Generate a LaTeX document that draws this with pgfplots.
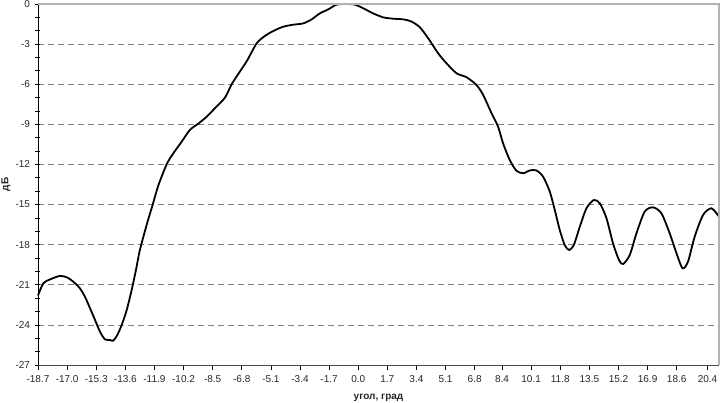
\documentclass[border=0pt]{standalone}
\usepackage{pgfplots}
\pgfplotsset{compat=1.18}
\usepackage{fontspec}
\setmainfont{Liberation Sans}
\pgfplotstableread{
x y
-18.70 -21.80
-18.39 -20.89
-18.00 -20.60
-17.42 -20.34
-17.02 -20.44
-16.64 -20.77
-16.25 -21.27
-15.96 -21.89
-15.66 -22.76
-15.37 -23.63
-15.08 -24.51
-14.79 -25.08
-14.50 -25.13
-14.30 -25.18
-14.07 -24.76
-13.81 -24.00
-13.52 -22.89
-13.23 -21.39
-12.98 -19.90
-12.75 -18.40
-12.35 -16.50
-12.00 -15.00
-11.68 -13.60
-11.19 -12.00
-10.80 -11.17
-10.31 -10.30
-9.83 -9.42
-9.34 -8.95
-8.85 -8.43
-8.37 -7.80
-7.78 -7.00
-7.39 -6.00
-6.91 -5.06
-6.47 -4.19
-5.93 -2.94
-5.45 -2.39
-4.96 -2.02
-4.38 -1.70
-3.80 -1.55
-3.21 -1.45
-2.72 -1.15
-2.24 -0.70
-1.75 -0.40
-1.26 -0.05
-0.68 0.00
-0.19 -0.05
0.29 -0.32
0.87 -0.70
1.46 -1.00
2.04 -1.10
2.63 -1.15
3.12 -1.32
3.60 -1.74
4.09 -2.57
4.67 -3.69
5.16 -4.44
5.74 -5.18
6.33 -5.48
6.91 -6.06
7.30 -6.81
7.79 -8.18
8.17 -9.18
8.46 -10.42
8.85 -11.67
9.24 -12.47
9.63 -12.66
10.02 -12.45
10.41 -12.45
10.80 -12.92
11.19 -14.04
11.48 -15.41
11.77 -16.90
12.06 -18.03
12.32 -18.40
12.59 -18.03
12.94 -16.66
13.33 -15.28
13.76 -14.66
14.11 -14.91
14.50 -16.03
14.88 -17.90
15.23 -19.15
15.47 -19.45
15.86 -18.77
16.25 -17.15
16.73 -15.53
17.22 -15.21
17.71 -15.66
18.19 -17.15
18.59 -18.65
18.94 -19.77
19.26 -19.27
19.65 -17.40
20.14 -15.78
20.63 -15.28
21.07 -15.91
}\datatable
\begin{document}
\begin{tikzpicture}
\begin{axis}[
  scale only axis,
  width=681pt, height=361pt,
  at={(0,0)}, anchor=south west,
  xmin=-18.7, xmax=21.07,
  ymin=-27, ymax=0,
  axis x line*=bottom, axis y line*=left,
  x axis line style={-, draw=black!70, line width=0.8pt},
  y axis line style={-, draw=black, line width=0.8pt},
  xtick={-18.7,-17.0,-15.3,-13.6,-11.9,-10.2,-8.5,-6.8,-5.1,-3.4,-1.7,0.0,1.7,3.4,5.1,6.8,8.4,10.1,11.8,13.5,15.2,16.9,18.6,20.4},
  xticklabels={-18.7,-17.0,-15.3,-13.6,-11.9,-10.2,-8.5,-6.8,-5.1,-3.4,-1.7,0.0,1.7,3.4,5.1,6.8,8.4,10.1,11.8,13.5,15.2,16.9,18.6,20.4},
  ytick={0,-3,...,-27},
  yticklabels={0,-3,-6,-9,-12,-15,-18,-21,-24,-27},
  minor ytick={-1,-2,-4,-5,-7,-8,-10,-11,-13,-14,-16,-17,-19,-20,-22,-23,-25,-26},
  /pgf/number format/assume math mode=true,
  ticklabel style={font=\fontsize{10}{12}\selectfont, text=black!85},
  xtick align=outside, ytick align=center,
  major tick length=5pt, minor tick length=5pt,
  tick style={black, line width=0.7pt},
  xticklabel style={yshift=-2pt},
  yticklabel style={xshift=-2pt},
  ymajorgrids,
  major grid style={draw=black!50, dash pattern=on 6pt off 4pt, line width=0.7pt},
  clip=false,
]
\addplot[black, line width=1.8pt, smooth, tension=0.45] table[x=x,y=y] {\datatable};
\draw[black!30, line width=1.2pt] (rel axis cs:0,1) -- (rel axis cs:1,1) -- (rel axis cs:1,0);
\node[font=\fontsize{10}{12}\selectfont\bfseries, text=black!85] at ([yshift=-33pt]rel axis cs:0.5,0) {угол, град};
\node[font=\fontsize{10}{12}\selectfont\bfseries, text=black!85, rotate=90] at ([xshift=-32pt]rel axis cs:0,0.5) {дБ};
\end{axis}
\pgfresetboundingbox
\path (-38pt,-38pt) rectangle (682pt,365pt);
\end{tikzpicture}
\end{document}
